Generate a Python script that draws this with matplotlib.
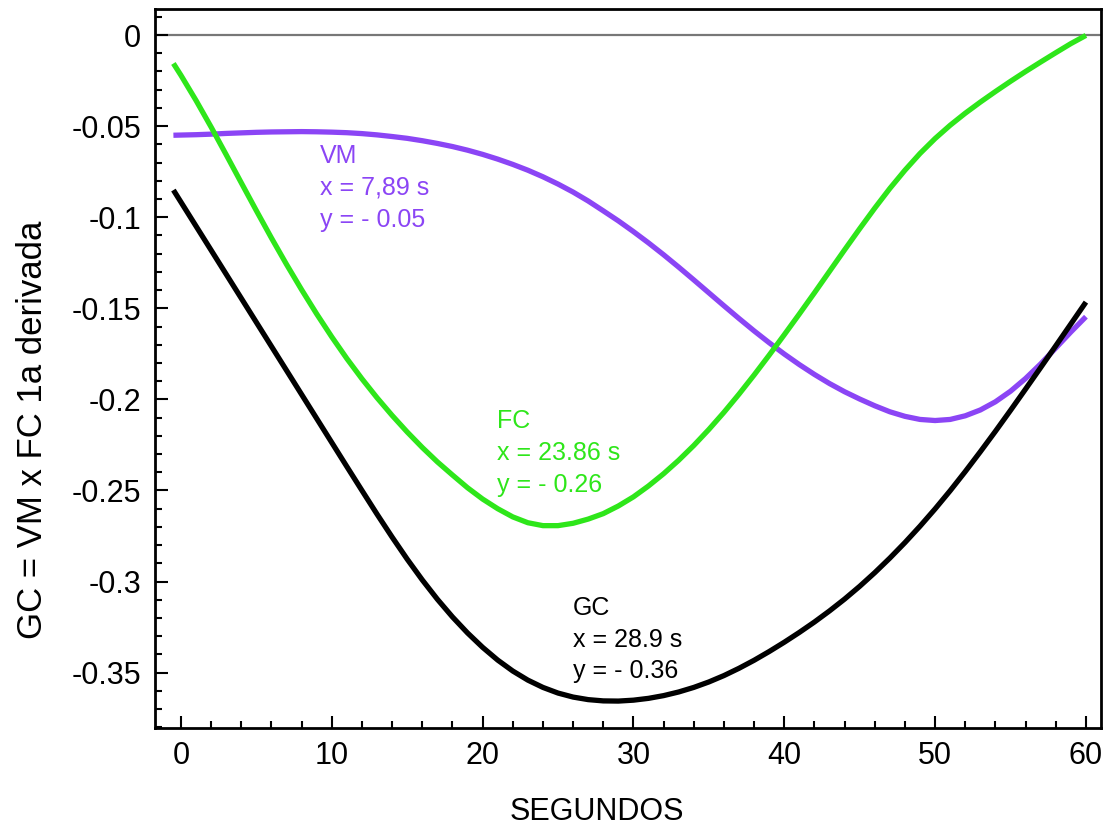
import numpy as np
import matplotlib
matplotlib.use('Agg')
import matplotlib.pyplot as plt
from matplotlib.ticker import MultipleLocator

plt.rcParams['font.family'] = ['Liberation Sans', 'DejaVu Sans']

# segundos
t = [-0.5, 0, 1, 2, 3, 4, 5, 6, 7, 8, 9, 10, 11, 12, 13, 14, 15, 16, 17, 18, 19, 20,
     21, 22, 23, 24, 25, 26, 27, 28, 29, 30, 31, 32, 33, 34, 35, 36, 37, 38, 39, 40,
     41, 42, 43, 44, 45, 46, 47, 48, 49, 50, 51, 52, 53, 54, 55, 56, 57, 58, 59, 60]

vm = [-0.0550, -0.0549, -0.0547, -0.0544, -0.0540, -0.0537, -0.0534, -0.0532, -0.0531,
      -0.0530, -0.0531, -0.0533, -0.0536, -0.0541, -0.0548, -0.0557, -0.0567, -0.0580,
      -0.0595, -0.0612, -0.0632, -0.0655, -0.0681, -0.0710, -0.0742, -0.0778, -0.0818,
      -0.0862, -0.0911, -0.0965, -0.1020, -0.1079, -0.1141, -0.1206, -0.1274, -0.1344,
      -0.1415, -0.1486, -0.1556, -0.1624, -0.1689, -0.1751, -0.1809, -0.1863, -0.1913,
      -0.1958, -0.1998, -0.2035, -0.2068, -0.2093, -0.2110, -0.2116, -0.2110, -0.2090,
      -0.2058, -0.2013, -0.1955, -0.1885, -0.1805, -0.1718, -0.1630, -0.1546]

fc = [-0.0156, -0.0221, -0.0359, -0.0505, -0.0657, -0.0811, -0.0964, -0.1114, -0.1259,
      -0.1398, -0.1531, -0.1657, -0.1776, -0.1887, -0.1991, -0.2088, -0.2179, -0.2264,
      -0.2343, -0.2415, -0.2485, -0.2547, -0.2600, -0.2645, -0.2677, -0.2693, -0.2693,
      -0.2680, -0.2657, -0.2627, -0.2585, -0.2535, -0.2475, -0.2408, -0.2334, -0.2253,
      -0.2165, -0.2071, -0.1971, -0.1866, -0.1757, -0.1645, -0.1531, -0.1415, -0.1297,
      -0.1179, -0.1063, -0.0950, -0.0842, -0.0742, -0.0650, -0.0568, -0.0495, -0.0429,
      -0.0368, -0.0310, -0.0254, -0.0200, -0.0148, -0.0097, -0.0047, -0.0002]

gc = [-0.0851, -0.0917, -0.1049, -0.1181, -0.1313, -0.1445, -0.1577, -0.1709, -0.1841,
      -0.1973, -0.2105, -0.2237, -0.2369, -0.2500, -0.2630, -0.2756, -0.2877, -0.2991,
      -0.3097, -0.3194, -0.3282, -0.3361, -0.3431, -0.3491, -0.3541, -0.3581, -0.3612,
      -0.3634, -0.3648, -0.3655, -0.3656, -0.3651, -0.3641, -0.3626, -0.3606, -0.3581,
      -0.3551, -0.3516, -0.3476, -0.3432, -0.3384, -0.3333, -0.3279, -0.3222, -0.3161,
      -0.3096, -0.3026, -0.2951, -0.2871, -0.2786, -0.2696, -0.2601, -0.2501, -0.2396,
      -0.2287, -0.2175, -0.2060, -0.1943, -0.1825, -0.1706, -0.1586, -0.1466]

vm_txt = 'VM\nx = 7,89 s\ny = - 0.05'
fc_txt = 'FC\nx = 23.86 s\ny = - 0.26'
gc_txt = 'GC\nx = 28.9 s\ny = - 0.36'

c_vm = '#8B45F5'
c_fc = '#2EE61A'
c_gc = 'black'

fig = plt.figure(figsize=(11.08, 8.33), dpi=100)
ax = fig.add_axes([0.1399, 0.126, 0.8538, 0.8632])

ax.axhline(0, color='#777777', lw=1.6, zorder=1)
ax.plot(t, vm, color=c_vm, lw=3.8, solid_capstyle='butt', solid_joinstyle='round', zorder=3)
ax.plot(t, fc, color=c_fc, lw=3.8, solid_capstyle='butt', solid_joinstyle='round', zorder=3)
ax.plot(t, gc, color=c_gc, lw=3.8, solid_capstyle='butt', solid_joinstyle='round', zorder=4)

ax.set_xlim(-1.72, 61.0)
ax.set_ylim(-0.3804, 0.0143)

ax.xaxis.set_major_locator(MultipleLocator(10))
ax.xaxis.set_minor_locator(MultipleLocator(2))
ax.yaxis.set_minor_locator(MultipleLocator(0.01))
ax.set_yticks([0, -0.05, -0.1, -0.15, -0.2, -0.25, -0.3, -0.35])
ax.set_yticklabels(['0', '-0.05', '-0.1', '-0.15', '-0.2', '-0.25', '-0.3', '-0.35'])

ax.tick_params(which='both', direction='in', top=False, right=False, width=1.5)
ax.tick_params(which='major', length=9, labelsize=22)
ax.tick_params(which='minor', length=5)
ax.tick_params(axis='y', pad=10)
ax.tick_params(axis='x', pad=9)
for s in ax.spines.values():
    s.set_linewidth(2)

ax.text(9.2, -0.0600, vm_txt, color=c_vm, fontsize=18, va='top', ha='left', linespacing=1.4)
ax.text(20.95, -0.2055, fc_txt, color=c_fc, fontsize=18, va='top', ha='left', linespacing=1.4)
ax.text(26.0, -0.3080, gc_txt, color=c_gc, fontsize=18, va='top', ha='left', linespacing=1.4)

fig.text(0.029, 0.484, 'GC = VM x FC 1a derivada', rotation=90, ha='center', va='center', fontsize=25)
fig.text(0.539, 0.025, 'SEGUNDOS', ha='center', va='center', fontsize=22)

fig.savefig('out.png', dpi=100)
